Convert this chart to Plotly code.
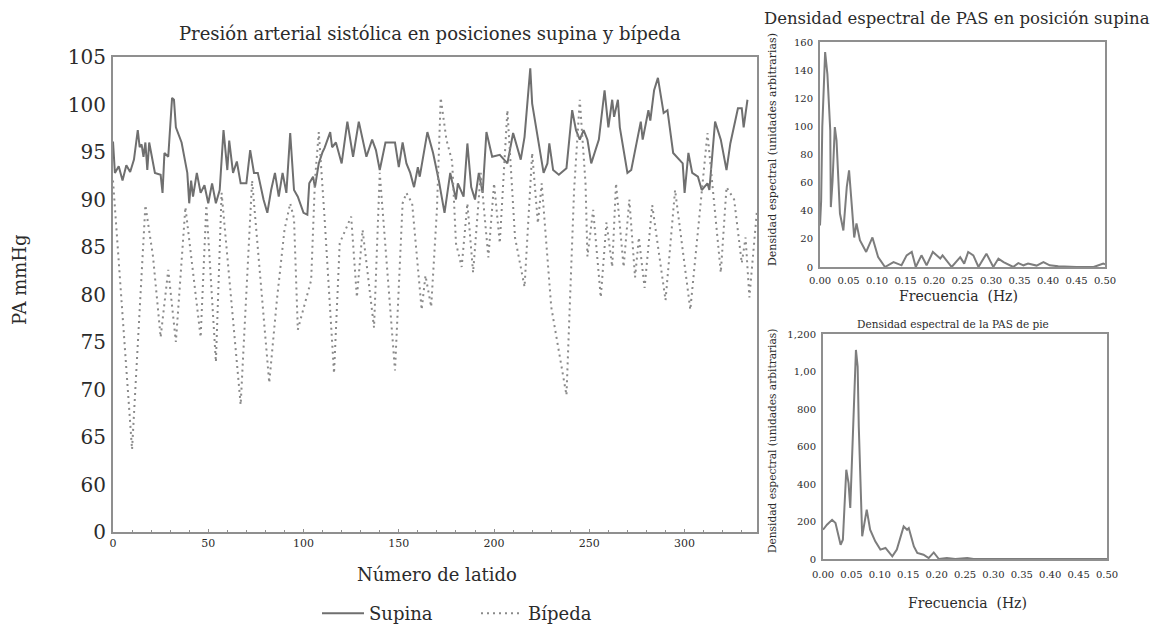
import plotly.graph_objects as go

# ---------------- data ----------------
supina_beat = [0, 1, 3, 5, 7, 9, 11, 13, 14, 15,
               16, 17, 18, 19, 22, 25, 26, 27, 29, 31,
               32, 33, 36, 39, 40, 41, 42, 44, 46, 48,
               50, 52, 54, 56, 58, 60, 61, 63, 65, 67,
               70, 72, 74, 76, 79, 81, 83, 85, 87, 89,
               91, 93, 95, 97, 100, 102, 103, 105, 106, 108,
               110, 111, 114, 115, 117, 120, 123, 124, 126, 129,
               131, 133, 136, 138, 140, 143, 146, 148, 150, 152,
               154, 156, 158, 160, 161, 165, 168, 171, 174, 177,
               180, 181, 184, 186, 188, 190, 192, 194, 196, 199,
               203, 207, 210, 214, 216, 219, 220, 223, 226, 228,
               229, 231, 234, 238, 241, 243, 245, 247, 249, 251,
               255, 258, 260, 262, 263, 265, 266, 270, 272, 277,
               278, 281, 282, 284, 286, 289, 291, 294, 296, 299,
               300, 302, 304, 307, 309, 312, 313, 316, 319, 322,
               324, 328, 330, 331, 333]
supina_pa = [96.1, 92.8, 93.5, 92, 93.6, 92.9, 94.2, 97.3, 95.5, 95.8,
             94.5, 96, 93.1, 96, 92.8, 92.6, 90.7, 94.9, 94.5, 100.7,
             100.5, 97.6, 96, 92.8, 89.6, 92, 90.3, 92.8, 90.7, 91.5,
             89.6, 91.7, 89.6, 91, 97.3, 93.1, 96.2, 92.8, 94, 91.7,
             91.7, 95.2, 92.8, 92.8, 90, 88.6, 91, 92.8, 90.3, 92.8,
             90.7, 97, 91, 90.3, 88.6, 88.4, 91.7, 92.4, 91.3, 93.8,
             95, 95.4, 97.1, 95.5, 96, 93.8, 98.2, 97, 94.5, 98.2,
             96.3, 94.5, 96.3, 95.2, 93.1, 96, 96, 96, 93.4, 96,
             93.8, 92.8, 91.3, 93.4, 92.4, 97.1, 94.9, 92, 88.6, 92.8,
             90, 91.7, 90.3, 95.9, 91.3, 90, 92.8, 90.7, 97.1, 94.5,
             94.7, 93.8, 97, 94.2, 96.6, 103.8, 100.1, 96.3, 92.8, 93.8,
             95.9, 93.1, 92.6, 93.3, 99.4, 97.3, 96.3, 97.3, 96.3, 93.8,
             96.3, 101.5, 97.6, 100.5, 98.7, 100.5, 97.6, 92.8, 93.1, 98.2,
             96.3, 99.4, 98.3, 101.5, 102.8, 99.1, 99.4, 94.9, 94.5, 93.8,
             90.7, 94.9, 92.8, 92.4, 91, 91.7, 91, 98.2, 96.3, 93.1,
             95.9, 99.6, 99.6, 97.6, 100.5]

bipeda_beat = [0, 10, 17, 21, 25, 29, 33, 38, 46, 49,
               54, 57, 67, 73, 82, 86, 90, 93, 95, 97,
               104, 106, 108, 111, 116, 119, 125, 128, 131, 137,
               140, 148, 152, 154, 157, 162, 164, 167, 170, 172,
               175, 178, 180, 183, 186, 189, 193, 197, 200, 203,
               207, 211, 216, 220, 223, 225, 230, 238, 242, 245,
               248, 249, 252, 256, 259, 262, 264, 268, 271, 274,
               276, 279, 283, 290, 295, 303, 312, 319, 322, 326,
               330, 332, 334, 338]
bipeda_pa = [92, 63.7, 89.4, 84, 75.5, 82.6, 75, 89.2, 75.5, 89.4,
             72.9, 90.7, 68.4, 92, 70.7, 79.4, 86.8, 89.6, 88, 76.3,
             81.5, 92, 97.1, 88.2, 71.7, 85.4, 88.2, 79.7, 86.8, 76.5,
             92.8, 72, 89.6, 90.7, 89.6, 78.4, 82, 78.7, 88.9, 100.7,
             96.3, 94, 85.4, 82.9, 89.6, 82.3, 92.8, 83.9, 91.7, 85.4,
             99.4, 86, 80.8, 94.9, 87.5, 91.7, 78.7, 69.4, 91, 100.5,
             91.7, 84, 88.9, 79.7, 87.6, 82.9, 91.7, 82.9, 90, 81.8,
             86, 80.7, 89.4, 79.4, 91, 78.4, 97, 82.3, 91.3, 90,
             83.3, 86, 79.7, 88.9]

main_ytick_vals = [55, 60, 65, 70, 75, 80, 85, 90, 95, 100, 105]
main_ytick_text = ["0", "60", "65", "70", "75", "80", "85", "90", "95", "100", "105"]

freq_sup = [0, 0.002, 0.004, 0.009, 0.013, 0.018, 0.019, 0.022, 0.026, 0.029,
            0.035, 0.041, 0.047, 0.051, 0.056, 0.06, 0.064, 0.07, 0.081, 0.092,
            0.102, 0.114, 0.129, 0.143, 0.152, 0.161, 0.168, 0.178, 0.187, 0.198,
            0.211, 0.215, 0.231, 0.246, 0.253, 0.26, 0.269, 0.278, 0.292, 0.304,
            0.313, 0.322, 0.339, 0.348, 0.357, 0.365, 0.38, 0.392, 0.403, 0.418,
            0.45, 0.48, 0.497, 0.5]
dens_sup = [29.6, 47, 99.5, 152.8, 137, 97, 42.6, 61, 99.5, 90,
            38, 26, 57, 68.7, 42.6, 21, 31, 19, 10.7, 21,
            7, 0, 3.5, 1.2, 8.3, 10.7, 0, 8.3, 1.2, 10.7,
            6, 8.3, 0, 7, 2.4, 10.7, 8.3, 0, 9.5, 0,
            6, 3.5, 0, 2.8, 1.2, 2.4, 1, 3.5, 1.2, 0.5,
            0, 0, 2.4, 2]

freq_pie = [0, 0.007, 0.016, 0.022, 0.031, 0.035, 0.041, 0.045, 0.048, 0.057,
            0.058, 0.061, 0.063, 0.069, 0.073, 0.077, 0.083, 0.092, 0.101, 0.11,
            0.122, 0.13, 0.142, 0.148, 0.151, 0.16, 0.166, 0.177, 0.186, 0.195,
            0.204, 0.218, 0.233, 0.254, 0.265, 0.5]
dens_pie = [156, 183, 209, 192, 76, 103, 476, 405, 272, 973,
            1115, 1026, 706, 121, 192, 263, 156, 94, 50, 59,
            14, 50, 174, 156, 165, 67, 32, 23, 5, 35,
            0, 5, 0, 5, 0, 0]

pie_ytick_vals = [0, 200, 400, 600, 800, 1000, 1200]
pie_ytick_text = ["0", "200", "400", "600", "800", "1,00", "1,200"]

# ---------------- figure ----------------
W, H = 1158, 632
FONT = "DejaVu Serif"
TXT = "#2b2b2b"
FRAME = "#8f8f8f"


def px(x):
    return x / W


def py(y):
    return 1 - y / H


fig = go.Figure()

fig.add_trace(go.Scatter(x=supina_beat, y=supina_pa, mode="lines", name="Supina",
                         line=dict(color="#6f6f6f", width=2), xaxis="x", yaxis="y"))
fig.add_trace(go.Scatter(x=bipeda_beat, y=bipeda_pa, mode="lines", name="Bípeda",
                         line=dict(color="#8a8a8a", width=2, dash="2px,4px"),
                         xaxis="x", yaxis="y"))
fig.add_trace(go.Scatter(x=freq_sup, y=dens_sup, mode="lines", showlegend=False,
                         line=dict(color="#7d7d7d", width=2), xaxis="x2", yaxis="y2"))
fig.add_trace(go.Scatter(x=freq_pie, y=dens_pie, mode="lines", showlegend=False,
                         line=dict(color="#7d7d7d", width=2), xaxis="x3", yaxis="y3"))

frame = dict(showline=True, linecolor=FRAME, linewidth=2, mirror=True,
             showgrid=False, zeroline=False, automargin=False)

fig.update_layout(
    width=W, height=H, autosize=False,
    margin=dict(l=0, r=0, t=0, b=0, pad=0),
    paper_bgcolor="white", plot_bgcolor="white",
    font=dict(family=FONT, color=TXT),
    showlegend=True,
    legend=dict(orientation="h", x=px(317), y=0, xanchor="left", yanchor="bottom",
                font=dict(size=18, family=FONT, color=TXT),
                itemwidth=42,
                entrywidth=102, entrywidthmode="pixels", bgcolor="rgba(0,0,0,0)"),
    xaxis=dict(domain=[px(113), px(757)], range=[0, 338], anchor="y",
               tickvals=[0, 50, 100, 150, 200, 250, 300], ticks="inside", ticklen=3,
               tickcolor=FRAME,
               tickfont=dict(size=11, family=FONT, color=TXT),
               minor=dict(ticks="inside", dtick=10, ticklen=2, tickcolor=FRAME),
               **frame),
    yaxis=dict(domain=[py(532), py(57)], range=[55, 105], anchor="x",
               tickvals=main_ytick_vals, ticktext=main_ytick_text,
               ticks="", ticklabelstandoff=1,
               tickfont=dict(size=20, family=FONT, color=TXT), **frame),
    xaxis2=dict(domain=[px(820), px(1105)], range=[0, 0.5], anchor="y2",
                dtick=0.05, tickformat=".2f", ticks="", ticklabelstandoff=3,
                tickfont=dict(size=10, family=FONT, color=TXT), **frame),
    yaxis2=dict(domain=[py(267), py(42)], range=[0, 160], anchor="x2",
                dtick=20, ticks="", ticklabelstandoff=3,
                tickfont=dict(size=10, family=FONT, color=TXT), **frame),
    xaxis3=dict(domain=[px(823), px(1107)], range=[0, 0.5], anchor="y3",
                dtick=0.05, tickformat=".2f", ticks="", ticklabelstandoff=5,
                tickfont=dict(size=10, family=FONT, color=TXT), **frame),
    yaxis3=dict(domain=[py(559), py(334)], range=[0, 1200], anchor="x3",
                tickvals=pie_ytick_vals, ticktext=pie_ytick_text, ticks="",
                ticklabelstandoff=3,
                tickfont=dict(size=10, family=FONT, color=TXT), **frame),
)


def note(text, x, y, size, angle=0):
    fig.add_annotation(text=text, x=px(x), y=py(y), xref="paper", yref="paper",
                       showarrow=False, xanchor="center", yanchor="middle",
                       textangle=angle, font=dict(size=size, family=FONT, color=TXT))


note("Presión arterial sistólica en posiciones supina y bípeda", 430, 33, 18)
note("PA mmHg", 20, 280, 18, -90)
note("Número de latido", 437, 574, 18)
note("Densidad espectral de PAS en posición supina", 957, 18, 16.5)
note("Densidad espectral (unidades arbitrarias)", 773, 150, 11, -90)
note("Frecuencia  (Hz)", 958, 296, 14)
note("Densidad espectral de la PAS de pie", 953, 324, 10.5)
note("Densidad espectral (unidades arbitrarias)", 772, 441, 10.6, -90)
note("Frecuencia  (Hz)", 967, 603, 14)

fig.write_html(
    "out.html",
    post_script="document.documentElement.style.margin='0';"
                "document.body.style.margin='0';document.body.style.padding='0';"
                "document.body.style.overflow='hidden';",
)
